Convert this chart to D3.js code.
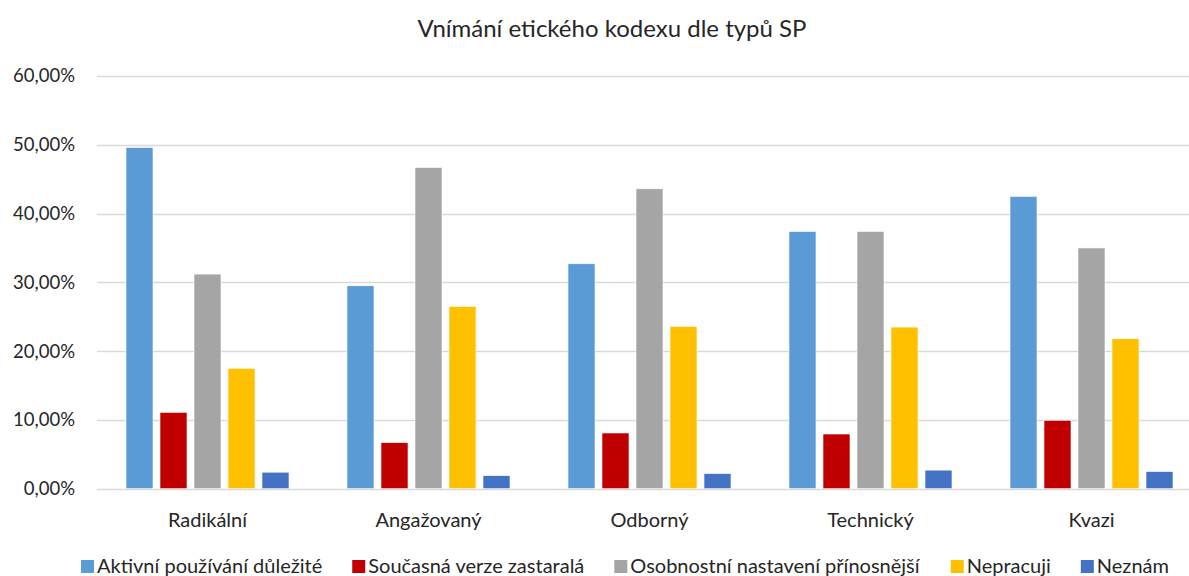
<!DOCTYPE html>
<html>
<head>
<meta charset="utf-8">
<script src="https://cdn.jsdelivr.net/npm/d3@7"></script>
<style>
  body { margin: 0; background: #fff; }
  svg { display: block; font-family: Lato, "Open Sans", sans-serif; }
</style>
</head>
<body>
<div id="chart"></div>
<script>
'use strict';

var categories = ["Radikální", "Angažovaný", "Odborný", "Technický", "Kvazi"];
var seriesNames = ["Aktivní používání důležité", "Současná verze zastaralá", "Osobnostní nastavení přínosnější", "Nepracuji", "Neznám"];
var seriesColors = ["#5B9BD5", "#C00000", "#A5A5A5", "#FFC000", "#4472C4"];

// hodnoty v procentech, jedna rada na serii
var aktivni   = [49.6, 29.5, 32.7, 37.4, 42.5];
var zastarala = [11.1, 6.7, 8.1, 7.95, 9.95];
var osobnost  = [31.2, 46.7, 43.6, 37.4, 35.0];
var nepracuji = [17.5, 26.5, 23.6, 23.5, 21.8];
var neznam    = [2.4, 1.9, 2.2, 2.7, 2.5];
var yTicks = [0, 10, 20, 30, 40, 50, 60];

var seriesValues = [aktivni, zastarala, osobnost, nepracuji, neznam];

var width = 1189, height = 576,
    margin = ({top: 76, bottom: 87, left: 97});

var svg = d3.select("#chart").append("svg")
    .attr("width", width)
    .attr("height", height);

var x0 = d3.scaleBand()
    .domain(categories)
    .range([margin.left, 1202])
    .paddingInner(0).paddingOuter(0);

var x1 = d3.scaleBand()
    .domain(d3.range(seriesNames.length))
    .range([0, x0.bandwidth()])
    .paddingInner(7 / 34)
    .paddingOuter(29 / 34);

var y = d3.scaleLinear()
    .domain([0, 60])
    .range([height - margin.bottom - 0.3, margin.top]);

// mrizka
svg.append("g")
  .selectAll("line")
  .data(yTicks)
  .join("line")
    .attr("x1", margin.left)
    .attr("x2", width)
    .attr("y1", d => Math.round(y(d)) + 0.5)
    .attr("y2", d => Math.round(y(d)) + 0.5)
    .attr("stroke", "#d9d9d9")
    .attr("stroke-width", 1.5);

svg.append("g")
  .selectAll("text")
  .data(yTicks)
  .join("text")
    .attr("x", 75)
    .attr("y", d => y(d))
    .attr("dy", "0.35em")
    .attr("text-anchor", "end")
    .attr("font-size", "18.5px")
    .attr("fill", "#262626")
    .text(d => d3.format(".2f")(d).replace(".", ",") + "%");

// sloupce
var groups = svg.append("g")
  .selectAll("g")
  .data(categories)
  .join("g")
    .attr("transform", d => "translate(" + x0(d) + ",0)");

groups.selectAll("rect")
  .data((c, ci) => seriesValues.map((vals, si) => ({si: si, v: vals[ci]})))
  .join("rect")
    .attr("x", d => x1(d.si))
    .attr("width", x1.bandwidth())
    .attr("y", d => y(d.v))
    .attr("height", d => y(0) - y(d.v))
    .attr("fill", d => seriesColors[d.si])
    .attr("stroke", "#fff")
    .attr("stroke-width", 0.6);

// popisky kategorii
svg.append("g")
  .selectAll("text")
  .data(categories)
  .join("text")
    .attr("x", d => x0(d) + x0.bandwidth() / 2)
    .attr("y", 520)
    .attr("dy", "0.35em")
    .attr("text-anchor", "middle")
    .attr("font-size", "20px")
    .attr("fill", "#262626")
    .text(d => d);

// titulek
svg.append("text")
    .attr("x", 612)
    .attr("y", 29)
    .attr("dy", "0.35em")
    .attr("text-anchor", "middle")
    .attr("font-size", "24px")
    .attr("fill", "#262626")
    .text("Vnímání etického kodexu dle typů SP");

// legenda
var legend = svg.append("g");
var items = legend.selectAll("g")
  .data(seriesNames)
  .join("g");

items.append("rect")
    .attr("x", 0)
    .attr("y", -6)
    .attr("width", 13)
    .attr("height", 13)
    .attr("fill", (d, i) => seriesColors[i]);

items.append("text")
    .attr("x", 16)
    .attr("dy", "0.35em")
    .attr("font-size", "20px")
    .attr("fill", "#262626")
    .text(d => d);

var pos = 0, gap = 30;
items.each(function() {
  var w = this.getBBox().width;
  d3.select(this).attr("transform", "translate(" + pos + ",0)");
  pos += w + gap;
});
var total = pos - gap;
legend.attr("transform", "translate(" + (625 - total / 2) + ",566)");
</script>
</body>
</html>
